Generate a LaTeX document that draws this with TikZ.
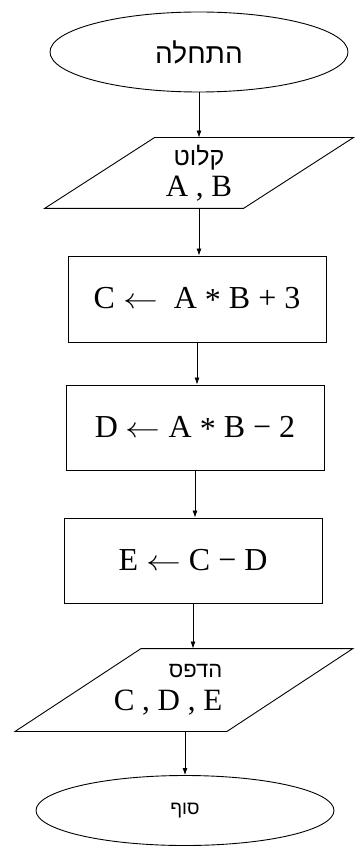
\documentclass[tikz,border=0pt]{standalone}
\usepackage{fontspec}
\setmainfont{Liberation Serif}
\newfontfamily\heb[Script=Hebrew]{Liberation Sans}
\TeXXeTstate=1
\usetikzlibrary{shapes.geometric,arrows.meta,calc}
\newcommand\larr{\scalebox{1.4}[1.15]{$\leftarrow$}}
\begin{document}
\begin{tikzpicture}[x=1pt,y=-1pt,
  line width=0.9pt,
  term/.style={ellipse,draw,inner sep=0pt,minimum width=298pt,align=center},
  procbox/.style={rectangle,draw,inner sep=0pt,minimum width=258pt,minimum height=85pt,font=\fontsize{32}{34}\selectfont},
  iobox/.style={rectangle,inner sep=0pt,font=\fontsize{31}{33}\selectfont},
  arr/.style={-{Latex[length=7pt,width=5pt]},line width=0.8pt}]
\useasboundingbox (0,0) rectangle (354,850);
\node[term,minimum height=80pt,font=\heb\fontsize{28}{30}\selectfont] (start) at (199,52) {\beginR התחלה\endR};
\node[iobox,align=center,minimum width=198pt,minimum height=70pt] (in) at (199,173)
  {{\heb\fontsize{25}{26}\selectfont\beginR קלוט\endR}\\[-2pt]A , B};
\draw ([xshift=-55pt]in.south west) -- ([xshift=-55pt]in.south east)
  -- ([xshift=55pt]in.north east) -- ([xshift=55pt]in.north west) -- cycle;
\node[procbox,minimum height=86pt] (c) at (197,299) {C \larr\ \ A \raisebox{-2pt}{*} B + 3};
\node[procbox] (d) at (195,427.5) {D \larr\ A \raisebox{-2pt}{*} B − 2};
\node[procbox] (e) at (193,560.5) {E \larr\ C − D};
\node[iobox,align=right,minimum width=211pt,minimum height=82pt] (out) at (168,690)
  {{\heb\fontsize{22}{26}\selectfont\beginR הדפס\endR}\\[0pt]C , D , E};
\draw ([xshift=-47pt]out.south west) -- ([xshift=-47pt]out.south east)
  -- ([xshift=79pt]out.north east) -- ([xshift=79pt]out.north west) -- cycle;
\node[term,minimum height=70pt,font=\heb\fontsize{19}{22}\selectfont] (end) at (185,810.5) {\beginR סוף\endR};
\draw[arr] (start.south) -- (start.south |- in.north);
\draw[arr] (in.south) -- (in.south |- c.north);
\draw[arr] (c.south) -- (c.south |- d.north);
\draw[arr] (d.south) -- (d.south |- e.north);
\draw[arr] (e.south) -- (e.south |- out.north);
\draw[arr] (end.north |- out.south) -- (end.north);
\end{tikzpicture}
\end{document}
